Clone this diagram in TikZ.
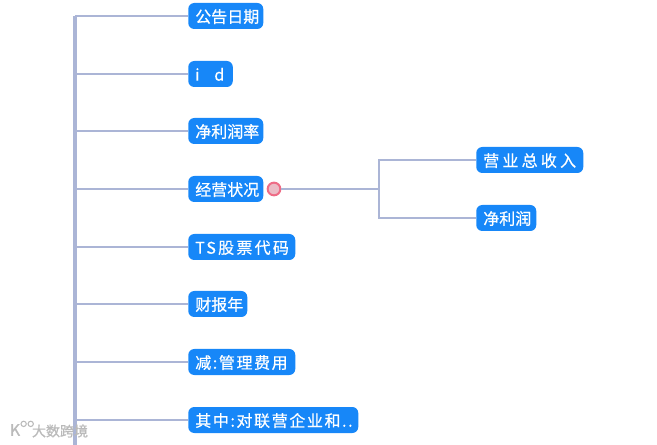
\documentclass[tikz,border=0pt]{standalone}
\usepackage{fontspec}
\setmainfont{Noto Sans CJK SC}
\newfontfamily\topicfont[FakeBold=0.5]{Noto Sans CJK SC}
\newfontfamily\brandfont[FakeBold=1]{Noto Sans CJK SC}
\usetikzlibrary{positioning, calc}
\definecolor{nodeblue}{HTML}{1787F8}
\definecolor{linkblue}{HTML}{ABB5D6}
\definecolor{dotred}{HTML}{EE6C86}
\definecolor{dotfill}{HTML}{EBBCC6}
\begin{document}
\begin{tikzpicture}[
    x=0.75pt, y=-0.75pt,
    node distance=0.75pt,
    topic/.style={fill=nodeblue, rounded corners=4.5pt, text=white, anchor=west, text width=#1, align=left,
      font=\topicfont\fontsize{12pt}{13pt}\selectfont, minimum height=19.5pt,
      text height=11pt, text depth=1pt, inner ysep=0pt, inner xsep=5.25pt},
    spaced/.style={font=\topicfont\fontsize{12pt}{13pt}\selectfont\addfontfeature{LetterSpace=#1}},
    link/.style={draw=linkblue, line width=2.1pt},
    trunk/.style={draw=linkblue, line width=2.4pt}
  ]
  \useasboundingbox (0,0) rectangle (657,445);
  \coordinate (trunktop) at (75,16);
  \coordinate (trunkend) at (75,445);
  \coordinate (fork) at (379,189);
  % first level
  \node[topic=45.75pt] (date) at (188,16) {公告日期};
  \node[topic=22.9pt] (id) at (188,74) {i\hspace{11pt}d};
  \node[topic=45.75pt] (rate) at (188,131) {净利润率};
  \node[topic=45.75pt] (state) at (188,189) {经营状况};
  \node[topic=69.75pt, spaced=14] (code) at (188,247) {TS股票代码};
  \node[topic=33.75pt] (year) at (188,304) {财报年};
  \node[topic=69.75pt, spaced=10] (cost) at (188,362) {减:管理费用};
  \node[topic=117pt, spaced=10] (assoc) at (188,420) {其中:对联营企业和..};
  % second level
  \node[topic=69.75pt, spaced=20] (income) at (476,160) {营业总收入};
  \node[topic=34.5pt] (profit) at (476,218) {净利润};
  \node[circle, draw=dotred, fill=dotfill, line width=1.5pt, minimum size=9.5pt, inner sep=0pt] (dot) at (274,189) {};

  \draw[trunk] (trunktop) -- (trunkend);
  \foreach \n in {date,id,rate,state,code,year,cost,assoc}
    \draw[link] (\n.west -| trunktop) -- (\n.west);
  \draw[link] (dot) -- (fork);
  \draw[link] (income.west) -| (fork) |- (profit.west);

  % watermark
  \node[text=black!27, font=\brandfont\fontsize{10.5pt}{12pt}\selectfont, inner sep=0pt] (brand) at (60,431) {大数跨境};
  \node[text=black!27, font=\brandfont\fontsize{12pt}{12pt}\selectfont, inner sep=0pt] (logo) at (15,430) {K};
  \node[circle, draw=black!27, line width=0.8pt, minimum size=4pt, inner sep=0pt, right=0pt of logo.north east] (eyea) {};
  \node[circle, draw=black!27, line width=0.8pt, minimum size=4pt, inner sep=0pt, right=0.5pt of eyea] (eyeb) {};
\end{tikzpicture}
\end{document}
